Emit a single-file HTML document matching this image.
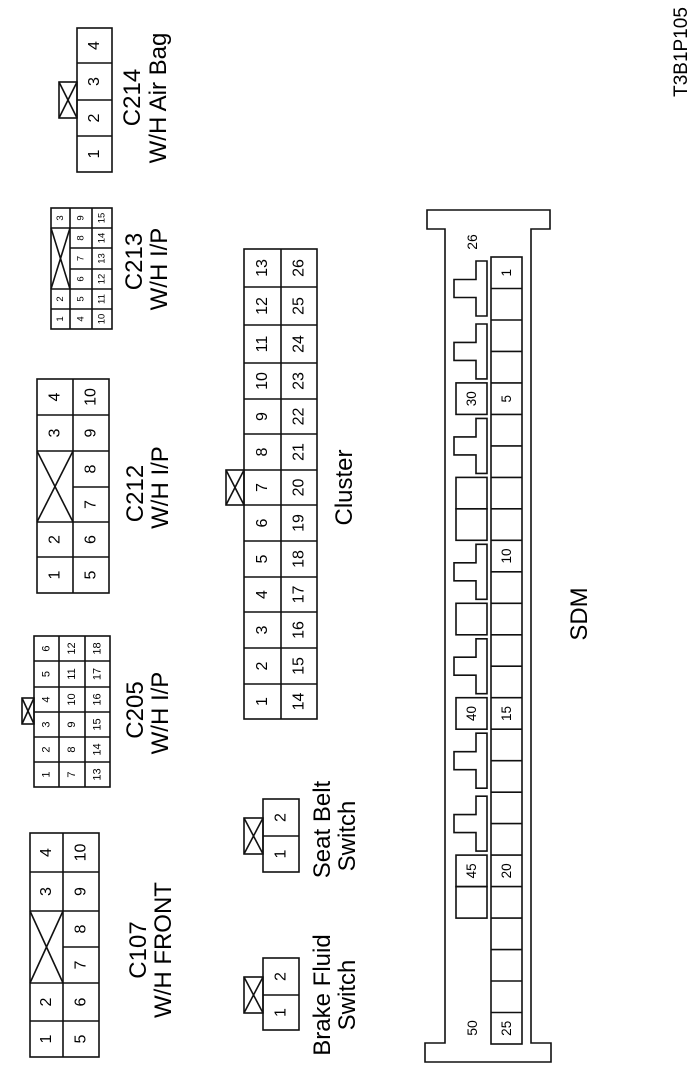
<!DOCTYPE html>
<html><head><meta charset="utf-8"><style>
html,body{margin:0;padding:0;background:#fff;}
svg{display:block;}
text{font-family:"Liberation Sans",Arial,sans-serif;fill:#000;}
.d{dominant-baseline:central;text-anchor:middle;}
.L{text-anchor:middle;font-size:24px;}
</style></head><body>
<svg width="700" height="1077" viewBox="0 0 700 1077" xmlns="http://www.w3.org/2000/svg">
<g fill="none" stroke="#111" stroke-width="1.6">
<!-- C214 -->
<rect x="77" y="28" width="35" height="144"/>
<line x1="77" y1="63" x2="112" y2="63"/><line x1="77" y1="100" x2="112" y2="100"/><line x1="77" y1="136" x2="112" y2="136"/>
<rect x="59" y="82" width="18" height="36"/><line x1="59" y1="82" x2="77" y2="118"/><line x1="59" y1="118" x2="77" y2="82"/>
<!-- C213 -->
<rect x="51" y="208" width="61" height="121"/>
<line x1="70" y1="208" x2="70" y2="329"/><line x1="92" y1="208" x2="92" y2="329"/>
<line x1="51" y1="228" x2="112" y2="228"/><line x1="70" y1="248" x2="112" y2="248"/><line x1="70" y1="269" x2="112" y2="269"/>
<line x1="51" y1="289" x2="112" y2="289"/><line x1="51" y1="309" x2="112" y2="309"/>
<line x1="51" y1="228" x2="70" y2="289"/><line x1="51" y1="289" x2="70" y2="228"/>
<!-- C212 -->
<rect x="37" y="379" width="72" height="214"/>
<line x1="73" y1="379" x2="73" y2="593"/>
<line x1="37" y1="415" x2="109" y2="415"/><line x1="37" y1="451" x2="109" y2="451"/><line x1="73" y1="487" x2="109" y2="487"/>
<line x1="37" y1="522" x2="109" y2="522"/><line x1="37" y1="557" x2="109" y2="557"/>
<line x1="37" y1="451" x2="73" y2="522"/><line x1="37" y1="522" x2="73" y2="451"/>
<!-- C205 -->
<rect x="34" y="636" width="76" height="151"/>
<line x1="59" y1="636" x2="59" y2="787"/><line x1="85" y1="636" x2="85" y2="787"/>
<line x1="34" y1="661" x2="110" y2="661"/><line x1="34" y1="687" x2="110" y2="687"/><line x1="34" y1="712" x2="110" y2="712"/>
<line x1="34" y1="737" x2="110" y2="737"/><line x1="34" y1="762" x2="110" y2="762"/>
<rect x="22" y="698" width="12" height="26"/><line x1="22" y1="698" x2="34" y2="724"/><line x1="22" y1="724" x2="34" y2="698"/>
<!-- C107 -->
<rect x="30" y="833" width="69" height="224"/>
<line x1="63" y1="833" x2="63" y2="1057"/>
<line x1="30" y1="872" x2="99" y2="872"/><line x1="30" y1="911" x2="99" y2="911"/><line x1="63" y1="947" x2="99" y2="947"/>
<line x1="30" y1="983" x2="99" y2="983"/><line x1="30" y1="1021" x2="99" y2="1021"/>
<line x1="30" y1="911" x2="63" y2="983"/><line x1="30" y1="983" x2="63" y2="911"/>
<!-- Cluster -->
<rect x="244" y="249" width="73" height="470"/>
<line x1="281" y1="249" x2="281" y2="719"/>
<line x1="244" y1="287" x2="317" y2="287"/><line x1="244" y1="325" x2="317" y2="325"/><line x1="244" y1="363" x2="317" y2="363"/>
<line x1="244" y1="399" x2="317" y2="399"/><line x1="244" y1="434" x2="317" y2="434"/><line x1="244" y1="470" x2="317" y2="470"/>
<line x1="244" y1="505" x2="317" y2="505"/><line x1="244" y1="541" x2="317" y2="541"/><line x1="244" y1="577" x2="317" y2="577"/>
<line x1="244" y1="612" x2="317" y2="612"/><line x1="244" y1="648" x2="317" y2="648"/><line x1="244" y1="684" x2="317" y2="684"/>
<rect x="226" y="470" width="18" height="35"/><line x1="226" y1="470" x2="244" y2="505"/><line x1="226" y1="505" x2="244" y2="470"/>
<!-- Seat Belt -->
<rect x="263" y="799" width="36" height="73"/><line x1="263" y1="836" x2="299" y2="836"/>
<rect x="244" y="818" width="19" height="36"/><line x1="244" y1="818" x2="263" y2="854"/><line x1="244" y1="854" x2="263" y2="818"/>
<!-- Brake Fluid -->
<rect x="263" y="958" width="36" height="72"/><line x1="263" y1="995" x2="299" y2="995"/>
<rect x="244" y="977" width="19" height="36"/><line x1="244" y1="977" x2="263" y2="1013"/><line x1="244" y1="1013" x2="263" y2="977"/>
<!-- SDM outline -->
<path d="M427 210 H550 V229 H531 V1043 H551 V1062 H425 V1043 H445 V229 H427 Z"/>
<!-- SDM lower cells -->
<rect x="491" y="257" width="31" height="787"/>
<path d="M491 288.5H522M491 320H522M491 351.4H522M491 382.9H522M491 414.4H522M491 445.9H522M491 477.4H522M491 508.8H522M491 540.3H522M491 571.8H522M491 603.3H522M491 634.8H522M491 666.2H522M491 697.7H522M491 729.2H522M491 760.7H522M491 792.2H522M491 823.6H522M491 855.1H522M491 886.6H522M491 918.1H522M491 949.6H522M491 981H522M491 1012.5H522"/>
<!-- SDM upper boxes -->
<rect x="456" y="382.9" width="31" height="31.5"/>
<rect x="456" y="477.4" width="31" height="31.4"/><rect x="456" y="508.8" width="31" height="31.5"/>
<rect x="456" y="603.3" width="31" height="31.5"/>
<rect x="456" y="697.7" width="31" height="31.5"/>
<rect x="456" y="855.1" width="31" height="31.5"/><rect x="456" y="886.6" width="31" height="31.5"/>
<!-- T shapes -->
<polygon points="487,261 487,316 476,316 476,297.5 454,297.5 454,279.5 476,279.5 476,261"/>
<polygon points="487,324 487,378.9 476,378.9 476,360.4 454,360.4 454,342.4 476,342.4 476,324"/>
<polygon points="487,418.4 487,473.4 476,473.4 476,454.9 454,454.9 454,436.9 476,436.9 476,418.4"/>
<polygon points="487,544.3 487,599.3 476,599.3 476,580.8 454,580.8 454,562.8 476,562.8 476,544.3"/>
<polygon points="487,638.8 487,693.7 476,693.7 476,675.2 454,675.2 454,657.2 476,657.2 476,638.8"/>
<polygon points="487,733.2 487,788.2 476,788.2 476,769.7 454,769.7 454,751.7 476,751.7 476,733.2"/>
<polygon points="487,796.2 487,851.1 476,851.1 476,832.6 454,832.6 454,814.6 476,814.6 476,796.2"/>
</g>

<!-- C214 digits -->
<g class="d" font-size="16">
<text x="94.5" y="154" transform="rotate(-90 94.5 154)">1</text>
<text x="94.5" y="118" transform="rotate(-90 94.5 118)">2</text>
<text x="94.5" y="81.5" transform="rotate(-90 94.5 81.5)">3</text>
<text x="94.5" y="45.5" transform="rotate(-90 94.5 45.5)">4</text>
</g>
<!-- C213 digits -->
<g class="d" font-size="9.5">
<text x="60.5" y="319" transform="rotate(-90 60.5 319)">1</text>
<text x="60.5" y="299" transform="rotate(-90 60.5 299)">2</text>
<text x="60.5" y="218" transform="rotate(-90 60.5 218)">3</text>
<text x="81" y="319" transform="rotate(-90 81 319)">4</text>
<text x="81" y="299" transform="rotate(-90 81 299)">5</text>
<text x="81" y="279" transform="rotate(-90 81 279)">6</text>
<text x="81" y="258.5" transform="rotate(-90 81 258.5)">7</text>
<text x="81" y="238" transform="rotate(-90 81 238)">8</text>
<text x="81" y="218" transform="rotate(-90 81 218)">9</text>
<text x="102" y="319" transform="rotate(-90 102 319)">10</text>
<text x="102" y="299" transform="rotate(-90 102 299)">11</text>
<text x="102" y="279" transform="rotate(-90 102 279)">12</text>
<text x="102" y="258.5" transform="rotate(-90 102 258.5)">13</text>
<text x="102" y="238" transform="rotate(-90 102 238)">14</text>
<text x="102" y="218" transform="rotate(-90 102 218)">15</text>
</g>
<!-- C212 digits -->
<g class="d" font-size="16">
<text x="55" y="575" transform="rotate(-90 55 575)">1</text>
<text x="55" y="539.5" transform="rotate(-90 55 539.5)">2</text>
<text x="55" y="433" transform="rotate(-90 55 433)">3</text>
<text x="55" y="397" transform="rotate(-90 55 397)">4</text>
<text x="91" y="575" transform="rotate(-90 91 575)">5</text>
<text x="91" y="539.5" transform="rotate(-90 91 539.5)">6</text>
<text x="91" y="504.5" transform="rotate(-90 91 504.5)">7</text>
<text x="91" y="469" transform="rotate(-90 91 469)">8</text>
<text x="91" y="433" transform="rotate(-90 91 433)">9</text>
<text x="91" y="397" transform="rotate(-90 91 397)">10</text>
</g>
<!-- C205 digits -->
<g class="d" font-size="11">
<text x="46.5" y="774.5" transform="rotate(-90 46.5 774.5)">1</text>
<text x="46.5" y="749.5" transform="rotate(-90 46.5 749.5)">2</text>
<text x="46.5" y="724.5" transform="rotate(-90 46.5 724.5)">3</text>
<text x="46.5" y="699.5" transform="rotate(-90 46.5 699.5)">4</text>
<text x="46.5" y="674" transform="rotate(-90 46.5 674)">5</text>
<text x="46.5" y="648.5" transform="rotate(-90 46.5 648.5)">6</text>
<text x="72" y="774.5" transform="rotate(-90 72 774.5)">7</text>
<text x="72" y="749.5" transform="rotate(-90 72 749.5)">8</text>
<text x="72" y="724.5" transform="rotate(-90 72 724.5)">9</text>
<text x="72" y="699.5" transform="rotate(-90 72 699.5)">10</text>
<text x="72" y="674" transform="rotate(-90 72 674)">11</text>
<text x="72" y="648.5" transform="rotate(-90 72 648.5)">12</text>
<text x="97.5" y="774.5" transform="rotate(-90 97.5 774.5)">13</text>
<text x="97.5" y="749.5" transform="rotate(-90 97.5 749.5)">14</text>
<text x="97.5" y="724.5" transform="rotate(-90 97.5 724.5)">15</text>
<text x="97.5" y="699.5" transform="rotate(-90 97.5 699.5)">16</text>
<text x="97.5" y="674" transform="rotate(-90 97.5 674)">17</text>
<text x="97.5" y="648.5" transform="rotate(-90 97.5 648.5)">18</text>
</g>
<!-- C107 digits -->
<g class="d" font-size="16">
<text x="46.5" y="1039" transform="rotate(-90 46.5 1039)">1</text>
<text x="46.5" y="1002" transform="rotate(-90 46.5 1002)">2</text>
<text x="46.5" y="891.5" transform="rotate(-90 46.5 891.5)">3</text>
<text x="46.5" y="852.5" transform="rotate(-90 46.5 852.5)">4</text>
<text x="81" y="1039" transform="rotate(-90 81 1039)">5</text>
<text x="81" y="1002" transform="rotate(-90 81 1002)">6</text>
<text x="81" y="965" transform="rotate(-90 81 965)">7</text>
<text x="81" y="929" transform="rotate(-90 81 929)">8</text>
<text x="81" y="891.5" transform="rotate(-90 81 891.5)">9</text>
<text x="81" y="852.5" transform="rotate(-90 81 852.5)">10</text>
</g>
<!-- Cluster digits -->
<g class="d" font-size="16">
<text x="262.5" y="701.5" transform="rotate(-90 262.5 701.5)">1</text>
<text x="262.5" y="666" transform="rotate(-90 262.5 666)">2</text>
<text x="262.5" y="630" transform="rotate(-90 262.5 630)">3</text>
<text x="262.5" y="594.5" transform="rotate(-90 262.5 594.5)">4</text>
<text x="262.5" y="559" transform="rotate(-90 262.5 559)">5</text>
<text x="262.5" y="523" transform="rotate(-90 262.5 523)">6</text>
<text x="262.5" y="487.5" transform="rotate(-90 262.5 487.5)">7</text>
<text x="262.5" y="452" transform="rotate(-90 262.5 452)">8</text>
<text x="262.5" y="416.5" transform="rotate(-90 262.5 416.5)">9</text>
<text x="262.5" y="381" transform="rotate(-90 262.5 381)">10</text>
<text x="262.5" y="344" transform="rotate(-90 262.5 344)">11</text>
<text x="262.5" y="306" transform="rotate(-90 262.5 306)">12</text>
<text x="262.5" y="268" transform="rotate(-90 262.5 268)">13</text>
<text x="299" y="701.5" transform="rotate(-90 299 701.5)">14</text>
<text x="299" y="666" transform="rotate(-90 299 666)">15</text>
<text x="299" y="630" transform="rotate(-90 299 630)">16</text>
<text x="299" y="594.5" transform="rotate(-90 299 594.5)">17</text>
<text x="299" y="559" transform="rotate(-90 299 559)">18</text>
<text x="299" y="523" transform="rotate(-90 299 523)">19</text>
<text x="299" y="487.5" transform="rotate(-90 299 487.5)">20</text>
<text x="299" y="452" transform="rotate(-90 299 452)">21</text>
<text x="299" y="416.5" transform="rotate(-90 299 416.5)">22</text>
<text x="299" y="381" transform="rotate(-90 299 381)">23</text>
<text x="299" y="344" transform="rotate(-90 299 344)">24</text>
<text x="299" y="306" transform="rotate(-90 299 306)">25</text>
<text x="299" y="268" transform="rotate(-90 299 268)">26</text>
</g>
<!-- Switch digits -->
<g class="d" font-size="16">
<text x="281" y="854" transform="rotate(-90 281 854)">1</text>
<text x="281" y="817.5" transform="rotate(-90 281 817.5)">2</text>
<text x="281" y="1012.5" transform="rotate(-90 281 1012.5)">1</text>
<text x="281" y="976.5" transform="rotate(-90 281 976.5)">2</text>
</g>
<!-- SDM digits -->
<g class="d" font-size="13.5">
<text x="506.5" y="272.7" transform="rotate(-90 506.5 272.7)">1</text>
<text x="506.5" y="398.7" transform="rotate(-90 506.5 398.7)">5</text>
<text x="506.5" y="556" transform="rotate(-90 506.5 556)">10</text>
<text x="506.5" y="713.5" transform="rotate(-90 506.5 713.5)">15</text>
<text x="506.5" y="870.9" transform="rotate(-90 506.5 870.9)">20</text>
<text x="506.5" y="1028.3" transform="rotate(-90 506.5 1028.3)">25</text>
<text x="471.5" y="398.7" transform="rotate(-90 471.5 398.7)">30</text>
<text x="471.5" y="713.5" transform="rotate(-90 471.5 713.5)">40</text>
<text x="471.5" y="870.9" transform="rotate(-90 471.5 870.9)">45</text>
</g>
<g class="d" font-size="14">
<text x="472" y="242" transform="rotate(-90 472 242)">26</text>
<text x="472" y="1028" transform="rotate(-90 472 1028)">50</text>
</g>

<!-- Labels -->
<text class="L" x="140" y="97.5" transform="rotate(-90 140 97.5)">C214</text>
<text class="L" x="166" y="98" transform="rotate(-90 166 98)">W/H Air Bag</text>
<text class="L" x="142" y="261.5" transform="rotate(-90 142 261.5)">C213</text>
<text class="L" x="167" y="269" transform="rotate(-90 167 269)">W/H I/P</text>
<text class="L" x="143" y="493.5" transform="rotate(-90 143 493.5)">C212</text>
<text class="L" x="168" y="487.5" transform="rotate(-90 168 487.5)">W/H I/P</text>
<text class="L" x="143" y="710" transform="rotate(-90 143 710)">C205</text>
<text class="L" x="168" y="713" transform="rotate(-90 168 713)">W/H I/P</text>
<text class="L" x="146" y="950" transform="rotate(-90 146 950)">C107</text>
<text class="L" x="171" y="950" transform="rotate(-90 171 950)">W/H FRONT</text>
<text class="L" x="352" y="487.5" transform="rotate(-90 352 487.5)">Cluster</text>
<text class="L" x="330" y="829.5" transform="rotate(-90 330 829.5)">Seat Belt</text>
<text class="L" x="355" y="836" transform="rotate(-90 355 836)">Switch</text>
<text class="L" x="330" y="995" transform="rotate(-90 330 995)">Brake Fluid</text>
<text class="L" x="355" y="995" transform="rotate(-90 355 995)">Switch</text>
<text class="L" x="587" y="614" transform="rotate(-90 587 614)">SDM</text>
<text x="687" y="52" transform="rotate(-90 687 52)" text-anchor="middle" font-size="19">T3B1P105</text>
</svg>
</body></html>
